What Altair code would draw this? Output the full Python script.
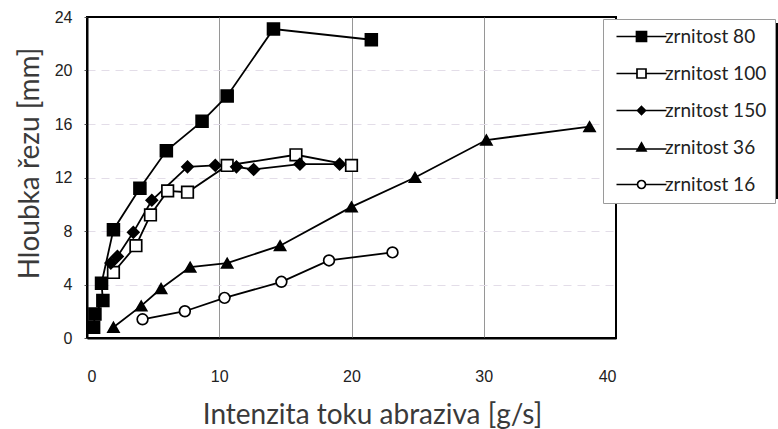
import altair as alt
import pandas as pd

series_names = ["zrnitost 80", "zrnitost 100", "zrnitost 150", "zrnitost 36", "zrnitost 16"]

x_80 = [0.5, 0.6, 1.2, 1.1, 2.0, 4.0, 6.0, 8.7, 10.6, 14.1, 21.5]
y_80 = [0.8, 1.8, 2.8, 4.1, 8.1, 11.2, 14.0, 16.2, 18.1, 23.1, 22.3]

x_100 = [2.0, 3.7, 4.8, 6.1, 7.6, 10.6, 15.8, 20.0]
y_100 = [4.9, 6.9, 9.2, 11.0, 10.9, 12.9, 13.7, 12.9]

x_150 = [1.8, 2.3, 3.5, 4.9, 7.6, 9.7, 11.3, 12.6, 16.1, 19.1]
y_150 = [5.6, 6.1, 7.9, 10.3, 12.8, 12.9, 12.8, 12.6, 13.0, 13.0]

x_36 = [2.0, 4.1, 5.6, 7.8, 10.6, 14.6, 20.0, 24.8, 30.2, 38.0]
y_36 = [0.8, 2.4, 3.7, 5.3, 5.6, 6.9, 9.8, 12.0, 14.8, 15.8]

x_16 = [4.2, 7.4, 10.4, 14.7, 18.3, 23.1]
y_16 = [1.4, 2.0, 3.0, 4.2, 5.8, 6.4]

x_ticks = [0, 10, 20, 30, 40]
y_ticks = [0, 4, 8, 12, 16, 20, 24]

rows = []
for name, xs, ys in zip(series_names,
                        [x_80, x_100, x_150, x_36, x_16],
                        [y_80, y_100, y_150, y_36, y_16]):
    for i, (xv, yv) in enumerate(zip(xs, ys)):
        rows.append({"series": name, "x": xv, "y": yv, "order": i})
df = pd.DataFrame(rows)

plot_shapes = ["square", "square", "diamond", "triangle-up", "circle"]
fills = ["black", "white", "black", "black", "white"]
blacks = ["black"] * 5

legend_shapes = [
    "M-5,0H-1M1,0H5M-1,-1H1V1H-1Z",
    "M-5,0H-0.9M0.9,0H5M-0.9,-0.9H0.9V0.9H-0.9Z",
    "M-5,0H5M0,-0.8L0.8,0L0,0.8L-0.8,0Z",
    "M-5,0.3H5M0,-0.9L0.9,0.7L-0.9,0.7Z",
    "M-5,0H-0.8M0.8,0H5M-0.8,0A0.8,0.8 0 1,0 0.8,0A0.8,0.8 0 1,0 -0.8,0Z",
]

TICK_FONT = "Liberation Sans"
TITLE_FONT = "Lato"

x_enc = alt.X("x:Q", scale=alt.Scale(domain=[0, 40], nice=False),
              axis=alt.Axis(values=x_ticks, title="Intenzita toku abraziva [g/s]",
                            grid=True, gridColor="#8a8a8a", gridWidth=0.9,
                            gridOpacity={"condition": {"test": "datum.value === 0 || datum.value === 40",
                                                       "value": 0}, "value": 1},
                            ticks=False, labelPadding=30, labelFontSize=16,
                            labelFont=TICK_FONT, labelColor="#222",
                            titleFont=TITLE_FONT, titleFontSize=28, titleFontWeight="normal",
                            titleColor="#3a3a3a", titleX=285, titleY=85,
                            titleAlign="center", titleBaseline="alphabetic",
                            domainColor="black", domainWidth=2))
y_enc = alt.Y("y:Q", scale=alt.Scale(domain=[0, 24], nice=False),
              axis=alt.Axis(values=y_ticks, title="Hloubka řezu [mm]",
                            grid=True, gridColor="#e3dde8", gridDash=[8, 6], gridWidth=1,
                            gridOpacity={"condition": {"test": "datum.value === 0 || datum.value === 24",
                                                       "value": 0}, "value": 1},
                            ticks=True, tickSize=3, tickColor="#555",
                            labelPadding=12, labelFontSize=16,
                            labelFont=TICK_FONT, labelColor="#222",
                            titleFont=TITLE_FONT, titleFontSize=28, titleFontWeight="normal",
                            titleColor="#3a3a3a", titleX=-49, titleY=146,
                            titleAlign="center", titleBaseline="alphabetic", titleAngle=270,
                            domainColor="black", domainWidth=2))

base = alt.Chart(df)

lines = base.mark_line(color="black", strokeWidth=1.8).encode(
    x=x_enc, y=y_enc, detail="series:N", order="order:Q"
)

points = base.mark_point(filled=False, stroke="black", strokeWidth=1.7, opacity=1).encode(
    x="x:Q", y="y:Q",
    shape=alt.Shape("series:N", scale=alt.Scale(domain=series_names, range=plot_shapes), legend=None),
    fill=alt.Fill("series:N", scale=alt.Scale(domain=series_names, range=fills), legend=None),
    size=alt.Size("series:N", scale=alt.Scale(domain=series_names, range=[140, 115, 70, 120, 95]), legend=None),
)

LEG_X, LEG_Y = 516, 2

main_legend = alt.Legend(title=None, orient="none", legendX=LEG_X, legendY=LEG_Y,
                         fillColor="white", strokeColor="#9a9a9a", zindex=2,
                         padding=8, symbolOffset=21, labelOffset=14, rowPadding=17,
                         symbolSize=100, labelFont=TITLE_FONT, labelFontSize=19,
                         labelColor="#222", labelLimit=300, symbolStrokeWidth=1.7)

legend_layer = base.transform_filter("false").mark_point(
    filled=False, strokeWidth=1.7, opacity=1, size=100
).encode(
    x="x:Q", y="y:Q",
    shape=alt.Shape("series:N", scale=alt.Scale(domain=series_names, range=legend_shapes),
                    legend=main_legend),
    fill=alt.Fill("series:N", scale=alt.Scale(domain=series_names, range=fills),
                  legend=main_legend),
    stroke=alt.Stroke("series:N", scale=alt.Scale(domain=series_names, range=blacks),
                      legend=main_legend),
)

# black offset copy of the legend box (drop shadow), without texts
shadow_legend = alt.Legend(title=None, orient="none", legendX=LEG_X + 4, legendY=LEG_Y + 4,
                           fillColor="black", strokeColor="black", zindex=1,
                           padding=8, symbolOffset=145, labelOffset=0, rowPadding=26,
                           symbolSize=100, labelExpr="''", labelFontSize=1,
                           symbolFillColor="black")

shadow_layer = base.transform_filter("false").transform_calculate(
    shadow="datum.series"
).mark_point(filled=True, opacity=1, size=100).encode(
    x="x:Q", y="y:Q",
    color=alt.Color("shadow:N", scale=alt.Scale(domain=series_names, range=blacks),
                    legend=shadow_legend),
)

chart = alt.layer(lines, points, shadow_layer, legend_layer).resolve_scale(
    shape="independent", fill="independent", size="independent",
    stroke="independent", color="independent"
).properties(
    width=529, height=321,
    autosize=alt.AutoSizeParams(type="none"),
    padding={"left": 87, "top": 17, "right": 162, "bottom": 91},
    background="white",
).configure_view(stroke="black", strokeWidth=2).configure_legend(strokeWidth=1)

chart.save("out.html", embed_options={"renderer": "svg", "actions": False})
